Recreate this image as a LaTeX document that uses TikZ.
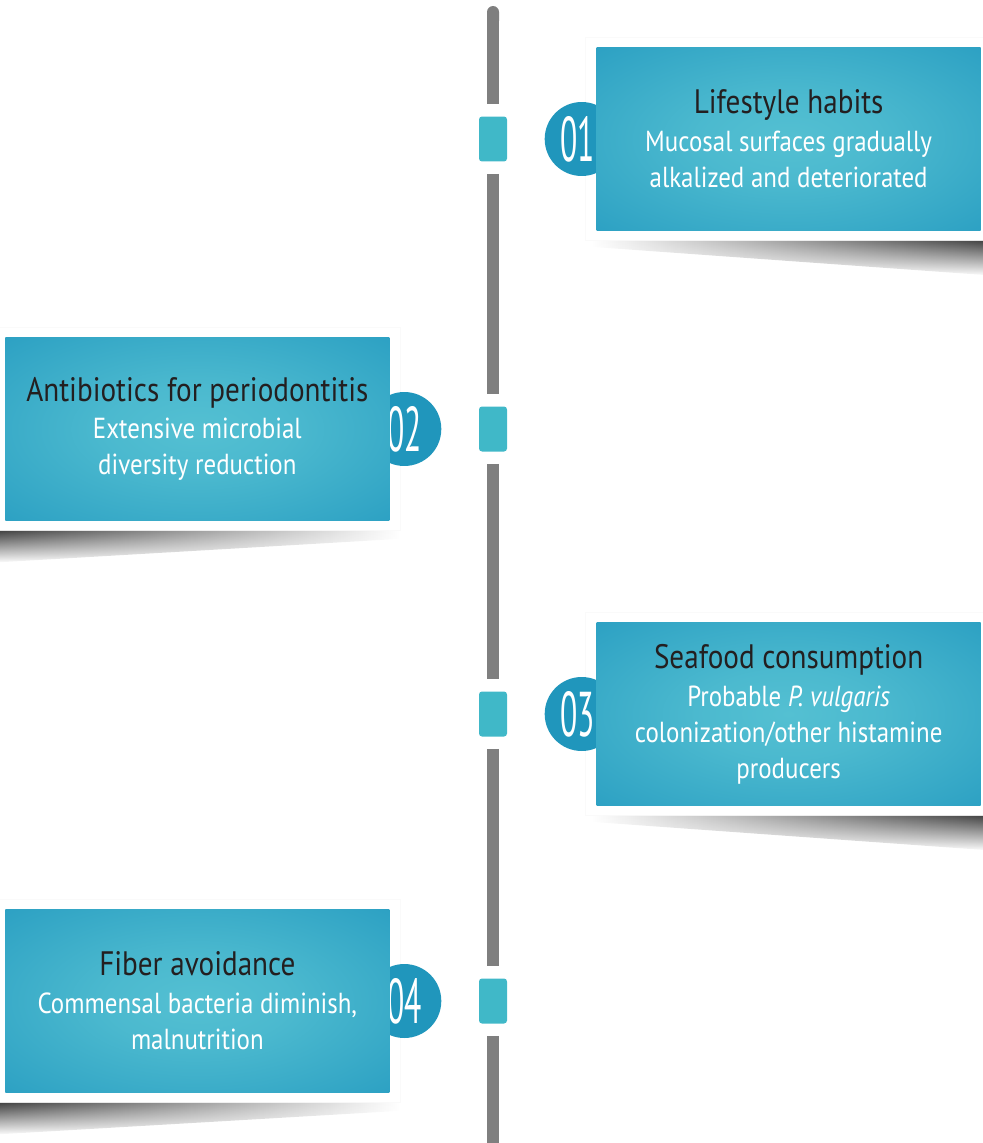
\documentclass[tikz,border=0pt]{standalone}
\usepackage{fontspec}
\setmainfont{PT Sans}[FakeStretch=0.86]
\newfontfamily\numfont{PT Sans}[FakeStretch=0.5]
\usetikzlibrary{positioning,arrows.meta,fadings,backgrounds}

\definecolor{cardhi}{RGB}{84,192,210}
\definecolor{cardlo}{RGB}{26,146,188}
\definecolor{discblue}{RGB}{32,150,188}
\definecolor{tabcyan}{RGB}{64,184,200}
\definecolor{railgray}{RGB}{127,127,127}
\definecolor{ink}{RGB}{35,31,32}
\pgfdeclareradialshading{cardglow}{\pgfpoint{0bp}{0bp}}{color(0bp)=(cardhi); color(12bp)=(cardhi!85!cardlo); color(50bp)=(cardlo); color(72bp)=(cardlo)}

\newcommand{\head}[1]{{\color{ink}\fontsize{19.3}{22}\selectfont #1}}

\begin{document}
\begin{tikzpicture}[x=0.02cm,y=-0.02cm,
		rail/.style={line width=0.24cm,railgray},
		tab/.style={rectangle,rounded corners=0.06cm,fill=tabcyan,minimum width=0.56cm,minimum height=0.9cm,inner sep=0pt},
		disc/.style={circle,fill=discblue,minimum size=1.48cm,inner sep=0pt,text=white,font=\numfont\fontsize{36}{36}\selectfont},
		card/.style={rectangle,shading=cardglow,minimum width=7.68cm,minimum height=3.66cm,align=center,text=white,font=\fontsize{16.5}{20.5}\selectfont,inner sep=0pt},
		frame/.style={fill=white,draw=black!2,line width=0.6pt},
		rshadow/.style={left color=white,right color=black!75,path fading=south},
		lshadow/.style={left color=black!75,right color=white,path fading=south}]
		\useasboundingbox (0,0) rectangle (983,1143);

		\node[tab]	(s1)	at (493,139)	{};
		\node[tab]	(s2)	at (493,429)	{};
		\node[tab]	(s3)	at (493,714)	{};
		\node[tab]	(s4)	at (493,1001)	{};
		\coordinate	(top)	at (493,6);
		\coordinate	(bot)	at (493,1143);

		\node[disc,right=0.74cm of s1]	(c1)	{\hspace*{-0.16cm}01};
		\node[disc,left=0.74cm of s2]	(c2)	{02};
		\node[disc,right=0.74cm of s3]	(c3)	{\hspace*{-0.16cm}03};
		\node[disc,left=0.74cm of s4]	(c4)	{04};

		\node[card,right=1.78cm of s1]	(b1)	{\head{Lifestyle habits}\\[1pt]Mucosal surfaces gradually\\alkalized and deteriorated};
		\node[card,left=1.78cm of s2]	(b2)	{\head{Antibiotics for periodontitis}\\[1pt]Extensive microbial\\diversity reduction};
		\node[card,right=1.78cm of s3]	(b3)	{\head{Seafood consumption}\\[1pt]Probable \textit{P. vulgaris}\\colonization/other histamine\\producers};
		\node[card,left=1.78cm of s4]	(b4)	{\head{Fiber avoidance}\\[1pt]Commensal bacteria diminish,\\malnutrition};

		\draw[rail,{Round Cap[]}-,shorten >=0.24cm] (top) -- (s1);
		\draw[rail,shorten <=0.24cm,shorten >=0.24cm] (s1) -- (s2);
		\draw[rail,shorten <=0.24cm,shorten >=0.24cm] (s2) -- (s3);
		\draw[rail,shorten <=0.24cm,shorten >=0.24cm] (s3) -- (s4);
		\draw[rail,shorten <=0.24cm] (s4) -- (bot);

		% white frames and curled shadows
		\begin{scope}[on background layer]
			\filldraw[frame] ([xshift=-0.22cm,yshift=0.2cm]b1.north west) rectangle ([xshift=0.22cm,yshift=-0.2cm]b1.south east);
			\filldraw[frame] ([xshift=-0.22cm,yshift=0.2cm]b2.north west) rectangle ([xshift=0.22cm,yshift=-0.2cm]b2.south east);
			\filldraw[frame] ([xshift=-0.22cm,yshift=0.2cm]b3.north west) rectangle ([xshift=0.22cm,yshift=-0.2cm]b3.south east);
			\filldraw[frame] ([xshift=-0.22cm,yshift=0.2cm]b4.north west) rectangle ([xshift=0.22cm,yshift=-0.2cm]b4.south east);
			\shade[rshadow] ([xshift=-0.1cm,yshift=-0.2cm]b1.south west) -- ([xshift=0.3cm,yshift=-0.2cm]b1.south east) -- ([xshift=0.3cm,yshift=-0.9cm]b1.south east) -- ([xshift=-0.1cm,yshift=-0.32cm]b1.south west) -- cycle;
			\shade[rshadow] ([xshift=-0.1cm,yshift=-0.2cm]b3.south west) -- ([xshift=0.3cm,yshift=-0.2cm]b3.south east) -- ([xshift=0.3cm,yshift=-0.9cm]b3.south east) -- ([xshift=-0.1cm,yshift=-0.32cm]b3.south west) -- cycle;
			\shade[lshadow] ([xshift=-0.3cm,yshift=-0.2cm]b2.south west) -- ([xshift=0.2cm,yshift=-0.2cm]b2.south east) -- ([xshift=0.2cm,yshift=-0.36cm]b2.south east) -- ([xshift=-0.3cm,yshift=-0.84cm]b2.south west) -- cycle;
			\shade[lshadow] ([xshift=-0.3cm,yshift=-0.2cm]b4.south west) -- ([xshift=0.2cm,yshift=-0.2cm]b4.south east) -- ([xshift=0.2cm,yshift=-0.36cm]b4.south east) -- ([xshift=-0.3cm,yshift=-0.84cm]b4.south west) -- cycle;
		\end{scope}
	\end{tikzpicture}
\end{document}
